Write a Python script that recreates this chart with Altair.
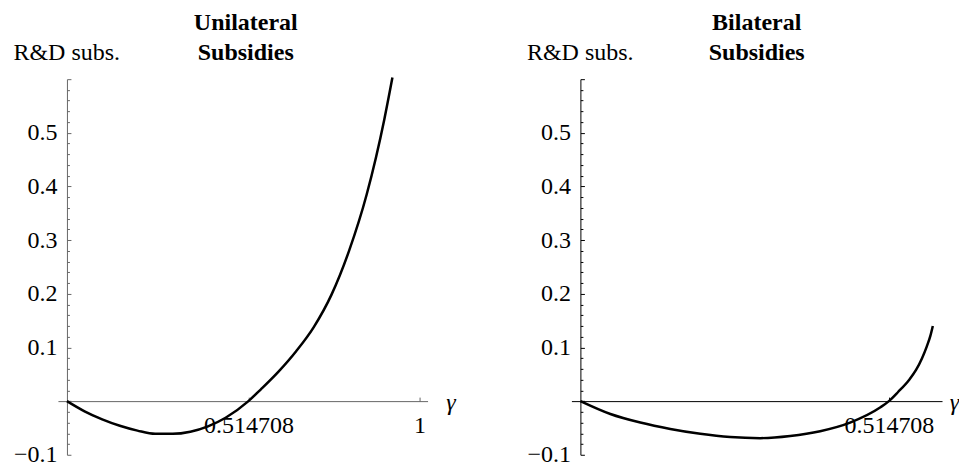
import altair as alt
import pandas as pd

# ---- data ----
uni_gamma = [0, 0.05, 0.1, 0.15, 0.2, 0.25, 0.3, 0.35, 0.4, 0.45, 0.514708,
             0.55, 0.6, 0.65, 0.7, 0.75, 0.8, 0.85, 0.9, 0.923]
uni_subs = [0, -0.019, -0.034, -0.046, -0.055, -0.061, -0.061, -0.057, -0.047, -0.031, 0,
            0.022, 0.055, 0.093, 0.138, 0.198, 0.280, 0.385, 0.525, 0.603]

bi_gamma = [0, 0.05, 0.1, 0.15, 0.2, 0.25, 0.3, 0.35, 0.4, 0.45, 0.5, 0.514708,
            0.53, 0.548, 0.56, 0.57, 0.578, 0.584, 0.588]
bi_subs = [0, -0.024, -0.040, -0.052, -0.061, -0.067, -0.069, -0.065, -0.056, -0.040, -0.012, 0,
           0.017, 0.039, 0.058, 0.080, 0.102, 0.122, 0.140]

uni_xticks = [0.514708, 1]
bi_xticks = [0.514708]
y_labels = [-0.1, 0.1, 0.2, 0.3, 0.4, 0.5]
y_minor = [round(-0.1 + 0.02 * i, 2) for i in range(36)]

FONT = "Liberation Serif"
H = 376
ZERO_OFF = -H * 0.1 / 0.7


def panel(gam, subs, xdom, xticks, title, axis_color, width, dx, gx):
    df = pd.DataFrame({"g": gam, "s": subs})
    xs = alt.Scale(domain=xdom, nice=False, zero=False)
    ys = alt.Scale(domain=[-0.1, 0.6], nice=False, zero=False)
    base = alt.Chart(df)
    line = base.mark_line(color="black", strokeWidth=2.5, interpolate="monotone").encode(
        x=alt.X("g:Q", scale=xs, axis=alt.Axis(
            orient="bottom", offset=ZERO_OFF, values=xticks, format=".6~g",
            ticks=False, domainColor=axis_color, labelPadding=12,
            title="γ", titleFont=FONT, titleFontStyle="italic", titleFontWeight="normal",
            titleAlign="center", titleBaseline="alphabetic", titleX=gx, titleY=8)),
        y=alt.Y("s:Q", scale=ys, axis=alt.Axis(
            orient="left", offset=-9, values=y_labels, format=".1f",
            ticks=False, domainColor=axis_color, labelPadding=10,
            title="R&D subs.", titleAngle=0, titleAlign="left", titleFontWeight="normal",
            titleBaseline="alphabetic", titleX=-54, titleY=-20)),
    )
    tickl = base.mark_line(strokeOpacity=0).encode(
        x=alt.X("g:Q", scale=xs, axis=alt.Axis(
            orient="top", offset=-(H + ZERO_OFF), values=xticks, labels=False,
            domain=False, tickSize=4, tickColor=axis_color, title=None)),
        y=alt.Y("s:Q", scale=ys, axis=alt.Axis(
            orient="right", offset=9 - width, values=y_minor, labels=False,
            domain=False, tickColor=axis_color, title=None,
            tickSize={"condition": {"test": "abs(datum.value*10 - round(datum.value*10)) < 0.001",
                                    "value": 4}, "value": 2.5})),
    )
    return alt.layer(line, tickl).resolve_axis(x="independent", y="independent").properties(
        width=width, height=H,
        title=alt.TitleParams(title, font=FONT, fontSize=24, fontWeight="bold", lineHeight=30,
                              anchor="middle", offset=-25, dx=dx, color="black"),
    )


left = panel(uni_gamma, uni_subs, [-9 / 353, 361 / 353], uni_xticks,
             ["Unilateral", "Subsidies"], "#666666", 370, 3, 393)
right = panel(bi_gamma, bi_subs, [-9 / 600, 362 / 600], bi_xticks,
              ["Bilateral", "Subsidies"], "#000000", 371, 0, 383)

chart = alt.hconcat(left, right, spacing=71).configure_view(stroke=None).configure_axis(
    grid=False, labelFont=FONT, labelFontSize=24, labelColor="black",
    titleFont=FONT, titleFontSize=24, titleColor="black",
).properties(padding={"left": 5, "top": 3, "right": 0, "bottom": 0})

chart.save("out.html", embed_options={"renderer": "svg", "actions": False})
